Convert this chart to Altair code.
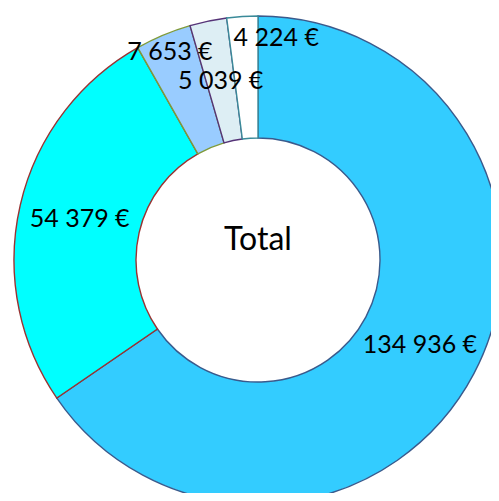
import altair as alt
import pandas as pd

labels = ["134 936 €", "54 379 €", "7 653 €", "5 039 €", "4 224 €"]
values = [134936, 54379, 7653, 5039, 4224]
fills = ["#33CCFF", "#00FFFF", "#99CCFF", "#DDEEF4", "#FFFFFF"]
strokes = ["#3A5A8C", "#993333", "#7F9A3A", "#553377", "#3A8A99"]
center_text = ["Total"]

df = pd.DataFrame({"label": labels, "value": values, "idx": list(range(len(values)))})

FONT = "Lato"
CX, CY = 250, 252

base = alt.Chart(df).encode(
    theta=alt.Theta("value:Q", stack=True),
    order=alt.Order("idx:Q"),
    x=alt.value(CX),
    y=alt.value(CY),
)

arcs = base.mark_arc(outerRadius=244, innerRadius=122, strokeWidth=1.4).encode(
    color=alt.Color("label:N", scale=alt.Scale(domain=labels, range=fills), legend=None),
    stroke=alt.Stroke("label:N", scale=alt.Scale(domain=labels, range=strokes), legend=None),
)

txt_main = base.mark_text(radius=183, font=FONT, fontSize=25, color="black").encode(
    text=alt.condition(
        (alt.datum.idx != 2) & (alt.datum.idx != 4), alt.Text("label:N"), alt.value("")
    )
)
txt_7653 = base.mark_text(radius=183, font=FONT, fontSize=25, color="black", dx=-17, dy=-39).encode(
    text=alt.condition(alt.datum.idx == 2, alt.Text("label:N"), alt.value(""))
)
txt_4224 = base.mark_text(radius=183, font=FONT, fontSize=25, color="black", dx=30, dy=-39).encode(
    text=alt.condition(alt.datum.idx == 4, alt.Text("label:N"), alt.value(""))
)

center = alt.Chart(pd.DataFrame({"t": center_text})).mark_text(
    font=FONT, fontSize=32, color="black"
).encode(x=alt.value(CX), y=alt.value(CY - 20), text="t:N")

chart = alt.layer(arcs, txt_main, txt_7653, txt_4224, center).properties(
    width=483, height=485, padding=0, autosize=alt.AutoSizeParams(type="none")
).configure_view(stroke=None)

chart.save("out.html", embed_options={"renderer": "svg", "actions": False})
